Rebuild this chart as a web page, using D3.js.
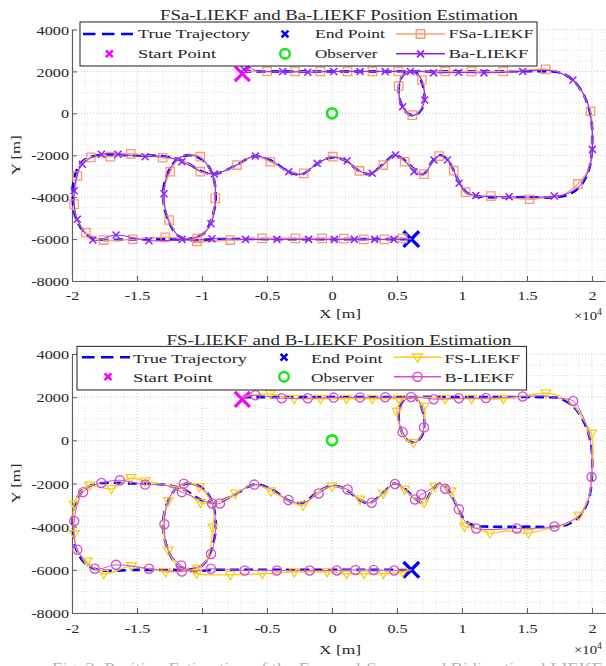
<!DOCTYPE html>
<html>
<head>
<meta charset="utf-8">
<script src="https://cdn.jsdelivr.net/npm/d3@7"></script>
<style>
  html, body { margin: 0; padding: 0; background: #fff; }
  svg { display: block; }
  text { font-family: "Liberation Serif", "Times New Roman", serif; fill: #262626; }
</style>
</head>
<body>
<svg id="fig" width="606" height="666"></svg>
<script>
// ---------- axis ticks ----------
const xTicks = [-20000, -15000, -10000, -5000, 0, 5000, 10000, 15000, 20000];
const xTickLabels = ["-2", "-1.5", "-1", "-0.5", "0", "0.5", "1", "1.5", "2"];
const yTicks = [-8000, -6000, -4000, -2000, 0, 2000, 4000];
const yTickLabels = ["-8000", "-6000", "-4000", "-2000", "0", "2000", "4000"];

// ---------- titles and legend entries ----------
const titles = ["FSa-LIEKF and Ba-LIEKF Position Estimation", "FS-LIEKF and B-LIEKF Position Estimation"];
const legendTop = ["True Trajectory", "Start Point", "End Point", "Observer", "FSa-LIEKF", "Ba-LIEKF"];
const legendBottom = ["True Trajectory", "Start Point", "End Point", "Observer", "FS-LIEKF", "B-LIEKF"];

// ---------- reference points [x, y] in metres ----------
const startPoint = [-6900, 1900];
const endPoint = [6100, -6000];
const observer = [0, 0];

// ---------- true trajectory [x, y] ----------
const truePath = [
  [-6900, 2000], [-4000, 2000], [0, 2000], [4000, 2000], [5600, 2000],
  [6400, 1950], [6900, 1500], [7100, 800], [6900, 200], [6300, -100], [5700, 50], [5250, 600], [5150, 1300], [5500, 1850], [6200, 2000],
  [8000, 2000], [12000, 2000], [16500, 2000], [17500, 1950], [18600, 1550], [19500, 700], [19950, -300], [20000, -1500],
  [19800, -2600], [19200, -3400], [18300, -3850], [17300, -4000], [15000, -4000], [12000, -4000], [11000, -3950], [10300, -3750],
  [9800, -3300], [9300, -2650], [8800, -2150], [8300, -2000], [7700, -2300], [7050, -2900], [6400, -2700], [5600, -2250],
  [4800, -2000], [3900, -2450], [2900, -2900], [2100, -2750], [1000, -2250], [0, -2100], [-1100, -2400], [-2300, -2900],
  [-3300, -2800], [-4700, -2250], [-6000, -2050], [-7300, -2450], [-8300, -2750], [-9100, -2900], [-10100, -2750],
  [-11500, -2250], [-13000, -2050], [-15500, -2000], [-18000, -2000], [-19200, -2300], [-19800, -3000], [-19950, -4000],
  [-19700, -5000], [-19000, -5700], [-18000, -6000], [-15000, -6000], [-12500, -6000], [-11000, -6000],
  [-9900, -5750], [-9300, -5100], [-8950, -4100], [-9150, -3000], [-9800, -2300], [-10800, -2000], [-11800, -2150],
  [-12600, -2800], [-13000, -3900], [-12600, -5100], [-11800, -5850], [-10800, -6050],
  [-9000, -6000], [-5000, -6000], [0, -6000], [4000, -6000], [6100, -6000]
];

// ---------- estimated tracks [x, y, marker?] ----------
const fsaTrack = [
  [-6900, 2000, 0], [-5000, 2000, 1], [-2850, 2000, 1], [-890, 2000, 1], [1200, 2000, 1], [3110, 2000, 1], [5100, 2000, 1],
  [6300, 1950, 0], [6921, 1590, 1], [7100, 800, 0], [6800, 150, 0], [6180, -86, 1], [5600, 100, 0], [5200, 700, 0],
  [5125, 1300, 1], [5500, 1850, 0], [6200, 2000, 0], [8709, 2000, 1], [10736, 2000, 1], [13179, 2000, 1], [16428, 2100, 1],
  [17500, 1950, 0], [18600, 1550, 0], [19500, 700, 0], [19884, 100, 1], [20000, -1500, 0], [19750, -2650, 0], [18920, -3370, 1],
  [17700, -3900, 0], [16500, -4000, 0], [15200, -4100, 1], [12220, -3946, 1], [10900, -3950, 0], [10280, -3760, 1],
  [9800, -3300, 0], [9364, -2738, 1], [8800, -2150, 0], [8230, -2037, 1], [7600, -2400, 0], [7075, -2900, 1], [6400, -2700, 0],
  [5588, -2309, 1], [4800, -2000, 0], [3946, -2467, 1], [2900, -2900, 0], [2119, -2750, 1], [1000, -2250, 0], [70, -2070, 1],
  [-1100, -2400, 0], [-2172, -2863, 1], [-3300, -2800, 0], [-4740, -2309, 1], [-6000, -2050, 0], [-7306, -2467, 1],
  [-8300, -2750, 0], [-9100, -2900, 0], [-10135, -2786, 1], [-11500, -2250, 0], [-13033, -2120, 1], [-15477, -1930, 1],
  [-17056, -2070, 1], [-18550, -2100, 1], [-19300, -2400, 0], [-19590, -2990, 1], [-19830, -4330, 1], [-19600, -5100, 0],
  [-18936, -5695, 1], [-17565, -6045, 1], [-15330, -6010, 1], [-12830, -5915, 1], [-11000, -6000, 0], [-10357, -5965, 1],
  [-9400, -5300, 0], [-8979, -4055, 1], [-9150, -3000, 0], [-10135, -2070, 1], [-10900, -1980, 0], [-11800, -2150, 0],
  [-12440, -2786, 1], [-13000, -3900, 0], [-12530, -5090, 1], [-11800, -5850, 0], [-10390, -6110, 1], [-7823, -6045, 1],
  [-5380, -5965, 1], [-2813, -5965, 1], [-755, -5965, 1], [910, -5980, 1], [2450, -6013, 1], [4040, -6013, 1],
  [5434, -5965, 1], [6100, -6000, 0]
];

const baTrack = [
  [-6900, 2000, 0], [-6783, 2100, 1], [-6450, 2230, 0], [-6100, 2100, 0], [-5600, 2000, 0], [-3800, 2000, 1], [-1865, 1960, 1],
  [131, 2000, 1], [2157, 2000, 1], [4092, 2000, 1], [5600, 2000, 0], [6027, 2000, 1], [6700, 1800, 0], [7050, 1200, 0],
  [7128, 634, 1], [6700, 50, 0], [6150, -100, 0], [5434, 316, 1], [5150, 1000, 0], [5400, 1750, 0], [6200, 2000, 0],
  [7823, 1930, 1], [9750, 1950, 1], [11690, 1930, 1], [14670, 2000, 1], [16500, 2050, 0], [17400, 1950, 0], [18536, 1590, 1],
  [19500, 750, 0], [19950, -400, 0], [20030, -1720, 1], [19750, -2700, 0], [19000, -3500, 0], [17800, -3900, 0],
  [17100, -3946, 1], [16000, -4000, 0], [13626, -3980, 1], [11060, -3920, 1], [10300, -3750, 0], [9773, -3340, 1],
  [9300, -2650, 0], [8875, -2228, 1], [8300, -2000, 0], [7846, -2228, 1], [7050, -2900, 0], [6305, -2786, 1],
  [5600, -2250, 0], [4894, -1990, 1], [3900, -2450, 0], [3098, -2863, 1], [2100, -2750, 0], [1170, -2260, 1], [0, -2100, 0],
  [-1143, -2386, 1], [-2300, -2900, 0], [-3327, -2786, 1], [-4700, -2250, 0], [-5896, -2037, 1], [-7300, -2450, 0],
  [-8300, -2750, 0], [-9050, -2896, 1], [-10100, -2750, 0], [-11546, -2309, 1], [-13000, -2050, 0], [-14374, -2070, 1],
  [-16462, -1956, 1], [-17742, -1956, 1], [-19206, -2433, 1], [-19830, -3693, 1], [-19590, -5058, 1], [-18400, -6045, 1],
  [-16610, -5806, 1], [-14080, -6080, 1], [-11546, -6013, 1], [-11000, -6000, 0], [-9900, -5750, 0], [-9310, -5270, 1],
  [-8950, -4100, 0], [-9100, -3100, 0], [-9800, -2300, 0], [-10800, -2000, 0], [-11800, -2150, 0], [-12600, -2800, 0],
  [-12925, -3835, 1], [-12600, -5100, 0], [-11800, -5850, 0], [-10800, -6050, 0], [-9233, -5980, 1], [-6650, -6013, 1],
  [-4240, -6013, 1], [-1800, -6013, 1], [180, -6013, 1], [1720, -6013, 1], [3280, -6013, 1], [4770, -6013, 1], [6100, -6000, 0]
];

const fsTrack = [
  [-6900, 2000, 0], [-6000, 2100, 0], [-4755, 2150, 1], [-2905, 1930, 1], [-879, 1930, 1], [1118, 1930, 1], [3112, 1930, 1],
  [5134, 1930, 1], [6300, 1950, 0], [7075, 1570, 1], [7100, 800, 0], [6800, 150, 0], [6266, -115, 1], [5600, 100, 0],
  [5200, 700, 0], [4987, 1330, 1], [5400, 1850, 0], [6200, 2000, 0], [8709, 1930, 1], [10736, 1930, 1], [13179, 1930, 1],
  [16455, 2180, 1], [17500, 2050, 0], [18600, 1600, 0], [19500, 800, 0], [19970, 300, 1], [20000, -1500, 0], [19750, -2650, 0],
  [18990, -3485, 1], [17700, -3950, 0], [16500, -4100, 0], [15115, -4300, 1], [13500, -4200, 0], [12140, -4300, 1],
  [11000, -4050, 0], [10200, -3994, 1], [9800, -3400, 0], [9157, -2358, 1], [8600, -2050, 0], [7900, -2150, 1],
  [7075, -2891, 1], [6400, -2700, 0], [5587, -2280, 1], [4800, -2000, 0], [3946, -2465, 1], [2900, -2900, 0], [2157, -2738, 1],
  [1000, -2250, 0], [15, -2127, 1], [-1100, -2400, 0], [-2219, -3011, 1], [-3300, -2800, 0], [-4694, -2358, 1],
  [-6000, -2050, 0], [-7437, -2465, 1], [-8300, -2750, 0], [-9100, -2900, 0], [-10120, -2891, 1], [-11500, -2250, 0],
  [-13000, -2050, 0], [-14374, -1900, 1], [-15477, -1747, 1], [-16970, -2247, 1], [-18636, -2094, 1], [-19350, -2400, 0],
  [-19830, -2970, 1], [-19830, -4346, 1], [-19600, -5100, 0], [-18840, -5615, 1], [-17565, -6180, 1], [-15420, -5829, 1],
  [-12800, -6102, 1], [-11000, -6000, 0], [-10400, -5950, 1], [-9600, -5500, 0], [-9163, -4040, 1], [-9150, -3000, 0],
  [-10210, -2160, 1], [-10900, -1980, 0], [-11800, -2150, 0], [-12590, -2812, 1], [-13000, -3900, 0], [-12590, -5110, 1],
  [-11800, -5850, 0], [-10412, -6180, 1], [-7823, -6227, 1], [-5350, -6180, 1], [-2907, -6102, 1], [-378, -6102, 1],
  [1118, -6180, 1], [2458, -6180, 1], [3946, -6180, 1], [5434, -6102, 1], [6100, -6000, 0]
];

const bTrack = [
  [-6900, 2000, 0], [-5888, 2090, 1], [-3862, 1950, 1], [-1865, 1950, 1], [131, 1980, 1], [2157, 1990, 1], [4092, 2000, 1],
  [5600, 2000, 0], [6089, 2010, 1], [6700, 1800, 0], [7075, 600, 1], [6700, 50, 0], [6150, -100, 0], [5434, 375, 1],
  [5150, 1000, 0], [5400, 1750, 0], [6200, 2000, 0], [7823, 1904, 1], [9757, 1950, 1], [11838, 1960, 1], [14670, 2030, 1],
  [16500, 2050, 0], [17400, 1950, 0], [18544, 1825, 1], [19500, 800, 0], [19950, -400, 0], [19970, -1700, 1], [19750, -2700, 0],
  [19000, -3500, 0], [17110, -3994, 1], [14220, -4082, 1], [11098, -4082, 1], [10300, -3800, 0], [9757, -3197, 1],
  [8709, -2247, 1], [8300, -2000, 0], [7500, -2300, 0], [6866, -2511, 1], [6389, -2738, 1], [5600, -2250, 0], [4840, -2020, 1],
  [3900, -2450, 0], [3052, -2891, 1], [2100, -2750, 0], [1202, -2280, 1], [0, -2100, 0], [-1033, -2465, 1], [-2300, -2900, 0],
  [-3353, -2766, 1], [-4700, -2250, 0], [-5973, -2052, 1], [-7300, -2450, 0], [-8624, -2924, 1], [-9225, -2924, 1],
  [-10100, -2750, 0], [-11546, -2400, 1], [-13000, -2050, 0], [-14374, -2052, 1], [-16316, -1853, 1], [-17742, -1974, 1],
  [-19145, -2400, 1], [-19830, -3734, 1], [-19590, -5064, 1], [-18250, -5949, 1], [-16610, -5768, 1], [-14080, -5949, 1],
  [-11546, -6074, 1], [-11000, -6000, 0], [-9900, -5750, 0], [-9310, -5264, 1], [-8950, -4100, 0], [-9150, -3000, 0],
  [-9800, -2300, 0], [-11400, -2006, 1], [-12100, -2300, 0], [-12600, -2800, 0], [-12890, -3887, 1], [-12600, -5100, 0],
  [-11607, -5796, 1], [-10800, -6050, 0], [-9310, -5949, 1], [-6720, -6028, 1], [-4247, -6028, 1], [-1719, -6028, 1],
  [370, -6028, 1], [1804, -6010, 1], [3200, -6010, 1], [4780, -6028, 1], [6100, -6000, 0]
];

const captionText = "Fig. 3: Position Estimation of the Forward-Sweep and Bidirectional LIEKF";

// ---------- styling ----------
const C = {
  truth: "#0000ff", start: "#ff00ff", end: "#0000ff", observer: "#1ee61e",
  fsa: "#f89c73", ba: "#8f1fff", fs: "#f8cf1e", b: "#d24fd2"
};

const svg = d3.select("#fig");
const x = d3.scaleLinear().domain([-20000, 21000]).range([72, 605]);
const curve = d3.curveCatmullRom.alpha(0.5);

function stretch(sel, w) {
  sel.attr("textLength", w).attr("lengthAdjust", "spacingAndGlyphs");
}

function markerPath(type) {
  switch (type) {
    case "square": return "M-4.2,-4.2h8.4v8.4h-8.4Z";
    case "times": return "M-3.5,-3.5L3.5,3.5M-3.5,3.5L3.5,-3.5";
    case "tri": return "M-4.8,-3.4L4.8,-3.4L0,4.9Z";
    case "circle": return "M4.6,0A4.6,4.6 0 1 1 -4.6,0A4.6,4.6 0 1 1 4.6,0Z";
  }
}

function bigX(g, cx, cy, r, color, w) {
  g.append("path")
    .attr("d", `M${cx - r},${cy - r}L${cx + r},${cy + r}M${cx - r},${cy + r}L${cx + r},${cy - r}`)
    .attr("stroke", color).attr("stroke-width", w).attr("fill", "none").attr("stroke-linecap", "butt");
}

const panels = [
  {
    top: 29.5, bottom: 281, title: titles[0], titleW: 358, titleY: 20,
    labels: legendTop,
    series: [
      { data: fsaTrack, color: C.fsa, marker: "square", lw: 1.4, mw: 1.3 },
      { data: baTrack, color: C.ba, marker: "times", lw: 1.0, mw: 1.5 }
    ],
    legend: { x: 80, y: 22, w: 457, h: 44, r1: 34, r2: 53.8, b1: 38.3, b2: 58.3,
      c1: [83, 133], t1: 138, m1: 109.4, m2: 285, t2: 315, c3: [396, 445], t3: 448.4,
      widths: [112, 78, 70, 62.5, 85, 80] },
    xTickY: 9, xLabelY: 318, exponentY: 320
  },
  {
    top: 354, bottom: 613, title: titles[1], titleW: 345, titleY: 344.5,
    labels: legendBottom,
    series: [
      { data: fsTrack, color: C.fs, marker: "tri", lw: 1.4, mw: 1.3 },
      { data: bTrack, color: C.b, marker: "circle", lw: 1.0, mw: 1.3 }
    ],
    legend: { x: 77, y: 346.4, w: 449.5, h: 43.6, r1: 357.3, r2: 376.8, b1: 362.9, b2: 382,
      c1: [82, 130], t1: 133, m1: 108, m2: 284, t2: 311, c3: [394, 441], t3: 444.5,
      widths: [114, 79.5, 71.5, 63, 75.5, 69.5] },
    xTickY: 10, xLabelY: 654, exponentY: 654
  }
];

panels.forEach(p => {
  const y = d3.scaleLinear().domain([-8000, 4000]).range([p.bottom, p.top]);
  const g = svg.append("g");

  // grid: minor every 1000 m in x, 500 m in y; major at ticks
  const gridG = g.append("g").attr("fill", "none");
  const xMinor = d3.range(-20000, 21001, 1000).filter(v => !xTicks.includes(v));
  const yMinor = d3.range(-8000, 4001, 500).filter(v => !yTicks.includes(v));
  gridG.selectAll(".xm").data(xMinor).join("line")
    .attr("x1", d => x(d)).attr("x2", d => x(d)).attr("y1", p.top).attr("y2", p.bottom)
    .attr("stroke", "#d9d9d9").attr("stroke-width", 0.8).attr("stroke-dasharray", "1,2");
  gridG.selectAll(".ym").data(yMinor).join("line")
    .attr("y1", d => y(d)).attr("y2", d => y(d)).attr("x1", 72).attr("x2", 605)
    .attr("stroke", "#d9d9d9").attr("stroke-width", 0.8).attr("stroke-dasharray", "1,2");
  gridG.selectAll(".xM").data(xTicks).join("line")
    .attr("x1", d => x(d)).attr("x2", d => x(d)).attr("y1", p.top).attr("y2", p.bottom)
    .attr("stroke", "#c4c4c4").attr("stroke-width", 0.9).attr("stroke-dasharray", "1,2");
  gridG.selectAll(".yM").data(yTicks).join("line")
    .attr("y1", d => y(d)).attr("y2", d => y(d)).attr("x1", 72).attr("x2", 605)
    .attr("stroke", "#c4c4c4").attr("stroke-width", 0.9).attr("stroke-dasharray", "1,2");

  // axes (ticks point inward)
  const ax = g.append("g").attr("transform", `translate(0,${p.bottom})`)
    .call(d3.axisBottom(x).tickValues(xTicks).tickFormat((d, i) => xTickLabels[i])
      .tickSizeInner(-5).tickSizeOuter(0).tickPadding(p.xTickY));
  const ay = g.append("g").attr("transform", "translate(72,0)")
    .call(d3.axisLeft(y).tickValues(yTicks).tickFormat((d, i) => yTickLabels[i])
      .tickSizeInner(-5).tickSizeOuter(0).tickPadding(3));
  [ax, ay].forEach(a => {
    a.select(".domain").attr("stroke", "#5c5c5c").attr("stroke-width", 1.1);
    a.selectAll(".tick line").attr("stroke", "#5c5c5c").attr("stroke-width", 1);
    a.selectAll(".tick text").attr("font-family", "Liberation Serif").attr("font-size", 13.5).attr("fill", "#262626")
      .each(function () {
        const n = this.getComputedTextLength();
        d3.select(this).attr("textLength", n * 1.2).attr("lengthAdjust", "spacingAndGlyphs");
      });
  });
  ay.selectAll(".tick text").attr("dy", "0.34em");

  // axis labels
  g.append("text").attr("x", 340).attr("y", p.xLabelY).attr("text-anchor", "middle")
    .attr("font-size", 13.5).text("X [m]").call(stretch, 42);
  g.append("text").attr("transform", `translate(20,${(p.top + p.bottom) / 2}) rotate(-90)`)
    .attr("text-anchor", "middle").attr("font-size", 13.5).text("Y [m]").call(stretch, 40);
  const ex = g.append("text").attr("x", 574).attr("y", p.exponentY).attr("font-size", 13.5);
  ex.append("tspan").text("\u00d710").attr("textLength", 23).attr("lengthAdjust", "spacingAndGlyphs");
  ex.append("tspan").text("4").attr("font-size", 9.5).attr("dy", -5.5);

  // title
  g.append("text").attr("x", 339).attr("y", p.titleY).attr("text-anchor", "middle")
    .attr("font-size", 13.8).text(p.title).call(stretch, p.titleW);

  // true trajectory
  const line = d3.line().x(d => x(d[0])).y(d => y(d[1])).curve(curve);
  g.append("path").attr("d", line(truePath)).attr("fill", "none")
    .attr("stroke", C.truth).attr("stroke-width", 2.6).attr("stroke-dasharray", "9,5");

  // start, end, observer
  bigX(g, x(startPoint[0]), y(startPoint[1]), 7.5, C.start, 3.2);
  bigX(g, x(endPoint[0]), y(endPoint[1]), 7.8, C.end, 3.3);
  g.append("circle").attr("cx", x(observer[0])).attr("cy", y(observer[1])).attr("r", 5)
    .attr("fill", "none").attr("stroke", C.observer).attr("stroke-width", 2.7);

  // estimates
  p.series.forEach(s => {
    g.append("path").attr("d", line(s.data)).attr("fill", "none")
      .attr("stroke", s.color).attr("stroke-width", s.lw);
    g.append("g").selectAll("path").data(s.data.filter(d => d[2] === 1)).join("path")
      .attr("transform", d => `translate(${x(d[0])},${y(d[1])})`)
      .attr("d", markerPath(s.marker)).attr("fill", "none")
      .attr("stroke", s.color).attr("stroke-width", s.mw);
  });

  // legend
  const L = p.legend;
  const lg = g.append("g");
  lg.append("rect").attr("x", L.x).attr("y", L.y).attr("width", L.w).attr("height", L.h)
    .attr("fill", "#fff").attr("stroke", "#333").attr("stroke-width", 1.1);
  lg.append("line").attr("x1", L.c1[0]).attr("x2", L.c1[1]).attr("y1", L.r1).attr("y2", L.r1)
    .attr("stroke", C.truth).attr("stroke-width", 2.6).attr("stroke-dasharray", "12.5,6.5");
  bigX(lg, L.m1, L.r2, 3.4, C.start, 2.6);
  bigX(lg, L.m2, L.r1, 3.4, C.end, 2.6);
  lg.append("circle").attr("cx", L.m2).attr("cy", L.r2).attr("r", 4.8)
    .attr("fill", "none").attr("stroke", C.observer).attr("stroke-width", 2.6);
  p.series.forEach((s, i) => {
    const ry = i === 0 ? L.r1 : L.r2;
    lg.append("line").attr("x1", L.c3[0]).attr("x2", L.c3[1]).attr("y1", ry).attr("y2", ry)
      .attr("stroke", s.color).attr("stroke-width", 1.6);
    lg.append("path").attr("transform", `translate(${(L.c3[0] + L.c3[1]) / 2},${ry})`)
      .attr("d", markerPath(s.marker)).attr("fill", "none")
      .attr("stroke", s.color).attr("stroke-width", s.mw + 0.2);
  });
  const pos = [[L.t1, L.b1], [L.t1, L.b2], [L.t2, L.b1], [L.t2, L.b2], [L.t3, L.b1], [L.t3, L.b2]];
  p.labels.forEach((t, i) => {
    lg.append("text").attr("x", pos[i][0]).attr("y", pos[i][1]).attr("font-size", 13.5)
      .text(t).call(stretch, L.widths[i]);
  });
});

// caption line under the figure, running past the lower frame edge
svg.append("text").attr("x", 52).attr("y", 673).attr("font-size", 14)
  .style("fill", "#b4b4b4").text(captionText).call(stretch, 550);
</script>
</body>
</html>
